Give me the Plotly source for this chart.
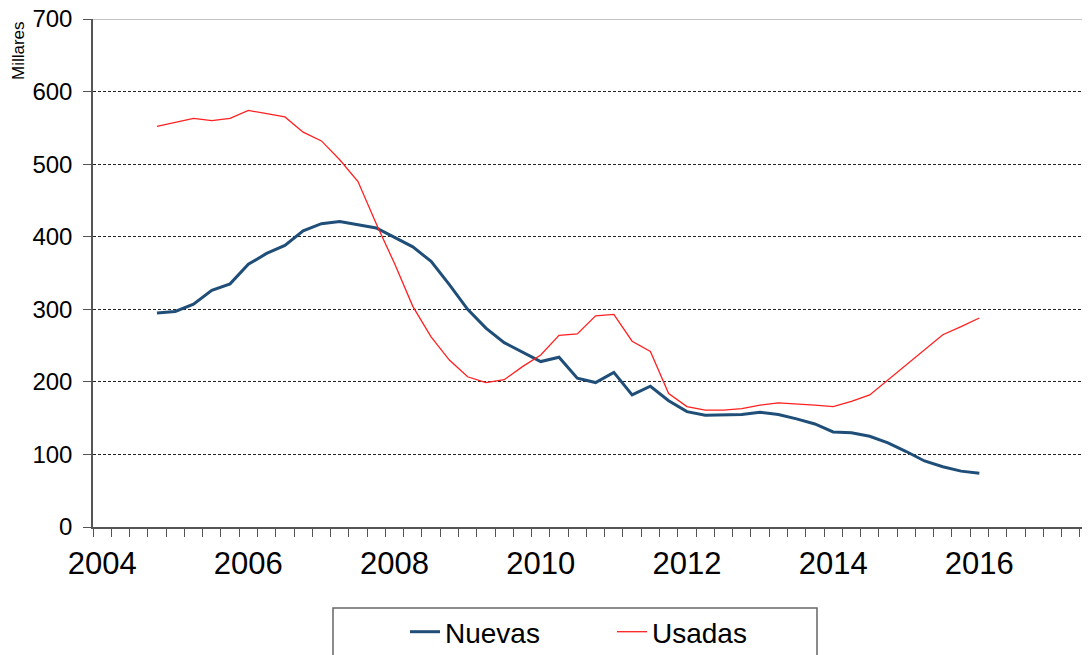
import plotly.graph_objects as go

# Quarterly data, 2004Q4 .. 2016Q1 (thousands)
quarters = [f"{y}Q{q}" for y in range(2004, 2017) for q in range(1, 5)]
quarters = quarters[3:3 + 46]

nuevas = [295, 297, 307, 326, 335, 362, 377, 388, 408, 418, 421, 417,
          412, 399, 386, 366, 334, 300, 274, 254, 241, 228, 234, 205,
          199, 213, 182, 194, 174, 159, 154, 154, 155, 158, 155, 149,
          142, 131, 130, 125, 116, 104, 91, 83, 77, 74]
usadas = [552, 557, 563, 560, 563, 574, 569, 565, 544, 532, 506, 476,
          418, 363, 304, 262, 230, 207, 199, 203, 221, 237, 264, 266,
          291, 293, 256, 242, 184, 166, 161, 161, 163, 168, 171, 170,
          168, 166, 173, 182, 203, 223, 244, 265, 276, 288]

year_labels = ["2004", "2006", "2008", "2010", "2012", "2014", "2016"]
y_ticks = [0, 100, 200, 300, 400, 500, 600, 700]


def qpos(label):
    y, q = int(label[:4]), int(label[-1])
    return y + (q - 1) / 4 + 0.125


xs = [qpos(q) for q in quarters]
label_pos = [int(l) + 0.125 for l in year_labels]

# page body has an 8px margin; work in screen px and convert
OFF = 8
W, H = 1090 - OFF, 655 - OFF
L = 93 - OFF
T = 19 - OFF
bottom = 527 - OFF
B = H - bottom
plot_w = W - L
plot_h = bottom - T
px_per_year = 73.1
x_end = 2004 + plot_w / px_per_year

FONT = "Liberation Sans, Arial, sans-serif"

fig = go.Figure()
fig.add_trace(go.Scatter(x=xs, y=nuevas, name="Nuevas", mode="lines",
                         line=dict(color="#1F4E79", width=3)))
fig.add_trace(go.Scatter(x=xs, y=usadas, name="Usadas", mode="lines",
                         line=dict(color="#FF2020", width=1.3)))


def px_x(p):  # screen px -> paper
    return (p - OFF - L) / plot_w


def px_y(p):
    return (bottom - (p - OFF)) / plot_h


fig.update_layout(
    width=W, height=H,
    margin=dict(l=L, r=0, t=T, b=B, autoexpand=False),
    plot_bgcolor="white", paper_bgcolor="white",
    font=dict(family=FONT, color="black"),
    showlegend=True,
    legend=dict(orientation="h", x=px_x(405), y=px_y(607), xanchor="left", yanchor="top",
                font=dict(size=28, family=FONT, color="black"),
                bgcolor="rgba(0,0,0,0)", borderwidth=0, entrywidth=162,
                itemwidth=30),
    xaxis=dict(range=[2004, x_end], tickmode="array", tickvals=label_pos,
               ticktext=year_labels, ticks="", showgrid=False, zeroline=False,
               showline=True, linecolor="#555555", linewidth=1.5,
               tickfont=dict(size=31, family=FONT, color="black"),
               ticklabelstandoff=8, ticklabeloverflow="allow",
               minor=dict(tickmode="linear", tick0=2004, dtick=0.25, ticks="outside",
                          ticklen=8, tickcolor="#555555", tickwidth=1, showgrid=False)),
    yaxis=dict(range=[0, 700], tickmode="array", tickvals=y_ticks,
               ticks="outside", ticklen=8, tickcolor="#555555",
               showline=True, linecolor="#555555", linewidth=1.5, zeroline=False,
               showgrid=True, gridcolor="#222222", gridwidth=1, griddash="3px,2px",
               tickfont=dict(size=24, family=FONT, color="black"),
               ticklabelstandoff=6, ticklabeloverflow="allow"),
    shapes=[
        dict(type="line", xref="paper", yref="y", x0=0, x1=1, y0=700, y1=700,
             line=dict(color="#888888", width=1)),
        dict(type="rect", xref="paper", yref="paper", x0=px_x(333), x1=px_x(817),
             y0=px_y(608), y1=px_y(670), line=dict(color="#666666", width=1.5)),
    ],
    annotations=[
        dict(text="Millares", xref="paper", yref="paper", x=px_x(18), y=px_y(51),
             showarrow=False, textangle=-90, font=dict(size=17, family=FONT, color="black"),
             xanchor="center", yanchor="middle"),
    ],
)

fig.write_html("out.html")
